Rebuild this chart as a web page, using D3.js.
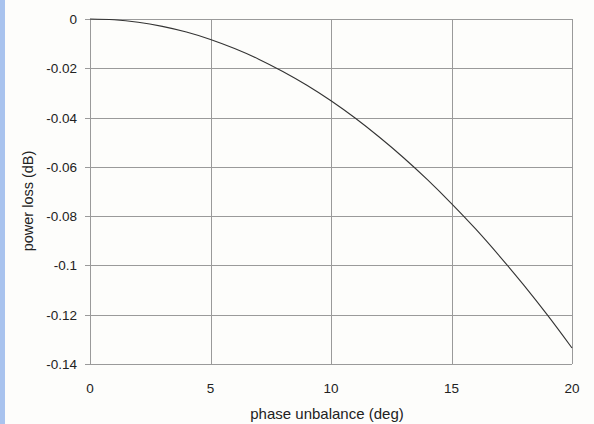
<!DOCTYPE html>
<html><head><meta charset="utf-8">
<script src="https://cdn.jsdelivr.net/npm/d3@7"></script>
<style>
html,body{margin:0;padding:0;background:#fdfdfb;}
svg{display:block;}
text{font-family:"Liberation Sans",Arial,sans-serif;}
</style></head><body>
<svg id="c" width="594" height="424"></svg>
<script>
const phaseDeg = [0,1,2,3,4,5,6,7,8,9,10,11,12,13,14,15,16,17,18,19,20];
const powerLossDb = [0,-0.0003,-0.0013,-0.003,-0.0053,-0.0083,-0.012,-0.0163,-0.0213,-0.0269,-0.0332,-0.0402,-0.0479,-0.0562,-0.0652,-0.0749,-0.0852,-0.0963,-0.108,-0.1204,-0.1335];
const xTicks = [0,5,10,15,20];
const yTicks = [0,-0.02,-0.04,-0.06,-0.08,-0.1,-0.12,-0.14];
const yTickLabels = ["0","-0.02","-0.04","-0.06","-0.08","-0.1","-0.12","-0.14"];
const xTitle = "phase unbalance (deg)";
const yTitle = "power loss (dB)";

const svg = d3.select("#c");
const L=90, R=572, T=19, B=364;
const x = d3.scaleLinear().domain([0,20]).range([L,R]);
const y = d3.scaleLinear().domain([0,-0.14]).range([T,B]);

svg.append("rect").attr("x",0).attr("y",0).attr("width",5).attr("height",424).attr("fill","#a9c3ee");

const g = svg.append("g");
g.selectAll("line.hy").data(yTicks).join("line")
  .attr("x1",L-5).attr("x2",R).attr("y1",d=>Math.round(y(d))+0.5).attr("y2",d=>Math.round(y(d))+0.5)
  .attr("stroke","#9a9a9a").attr("stroke-width",1);
g.selectAll("line.vx").data(xTicks).join("line")
  .attr("x1",d=>Math.round(x(d))+0.5).attr("x2",d=>Math.round(x(d))+0.5).attr("y1",T).attr("y2",B)
  .attr("stroke","#9a9a9a").attr("stroke-width",1);

g.selectAll("text.yl").data(yTicks).join("text")
  .attr("x",L-13).attr("y",d=>y(d)+5).attr("text-anchor","end")
  .attr("font-size",13.5).attr("fill","#222")
  .text((d,i)=>yTickLabels[i]);
g.selectAll("text.xl").data(xTicks).join("text")
  .attr("x",d=>x(d)).attr("y",B+29).attr("text-anchor","middle")
  .attr("font-size",13.5).attr("fill","#222").text(d=>d);

svg.append("text").attr("x",327).attr("y",419).attr("text-anchor","middle")
  .attr("font-size",15).attr("fill","#222").text(xTitle);
svg.append("text").attr("transform",`translate(33,${201}) rotate(-90)`).attr("text-anchor","middle")
  .attr("font-size",14.5).attr("fill","#222").text(yTitle);

const line = d3.line().x((d,i)=>x(phaseDeg[i])).y(d=>y(d)).curve(d3.curveMonotoneX);
svg.append("path").datum(powerLossDb).attr("d",line).attr("fill","none")
  .attr("stroke","#333").attr("stroke-width",1.1);
</script>
</body></html>
